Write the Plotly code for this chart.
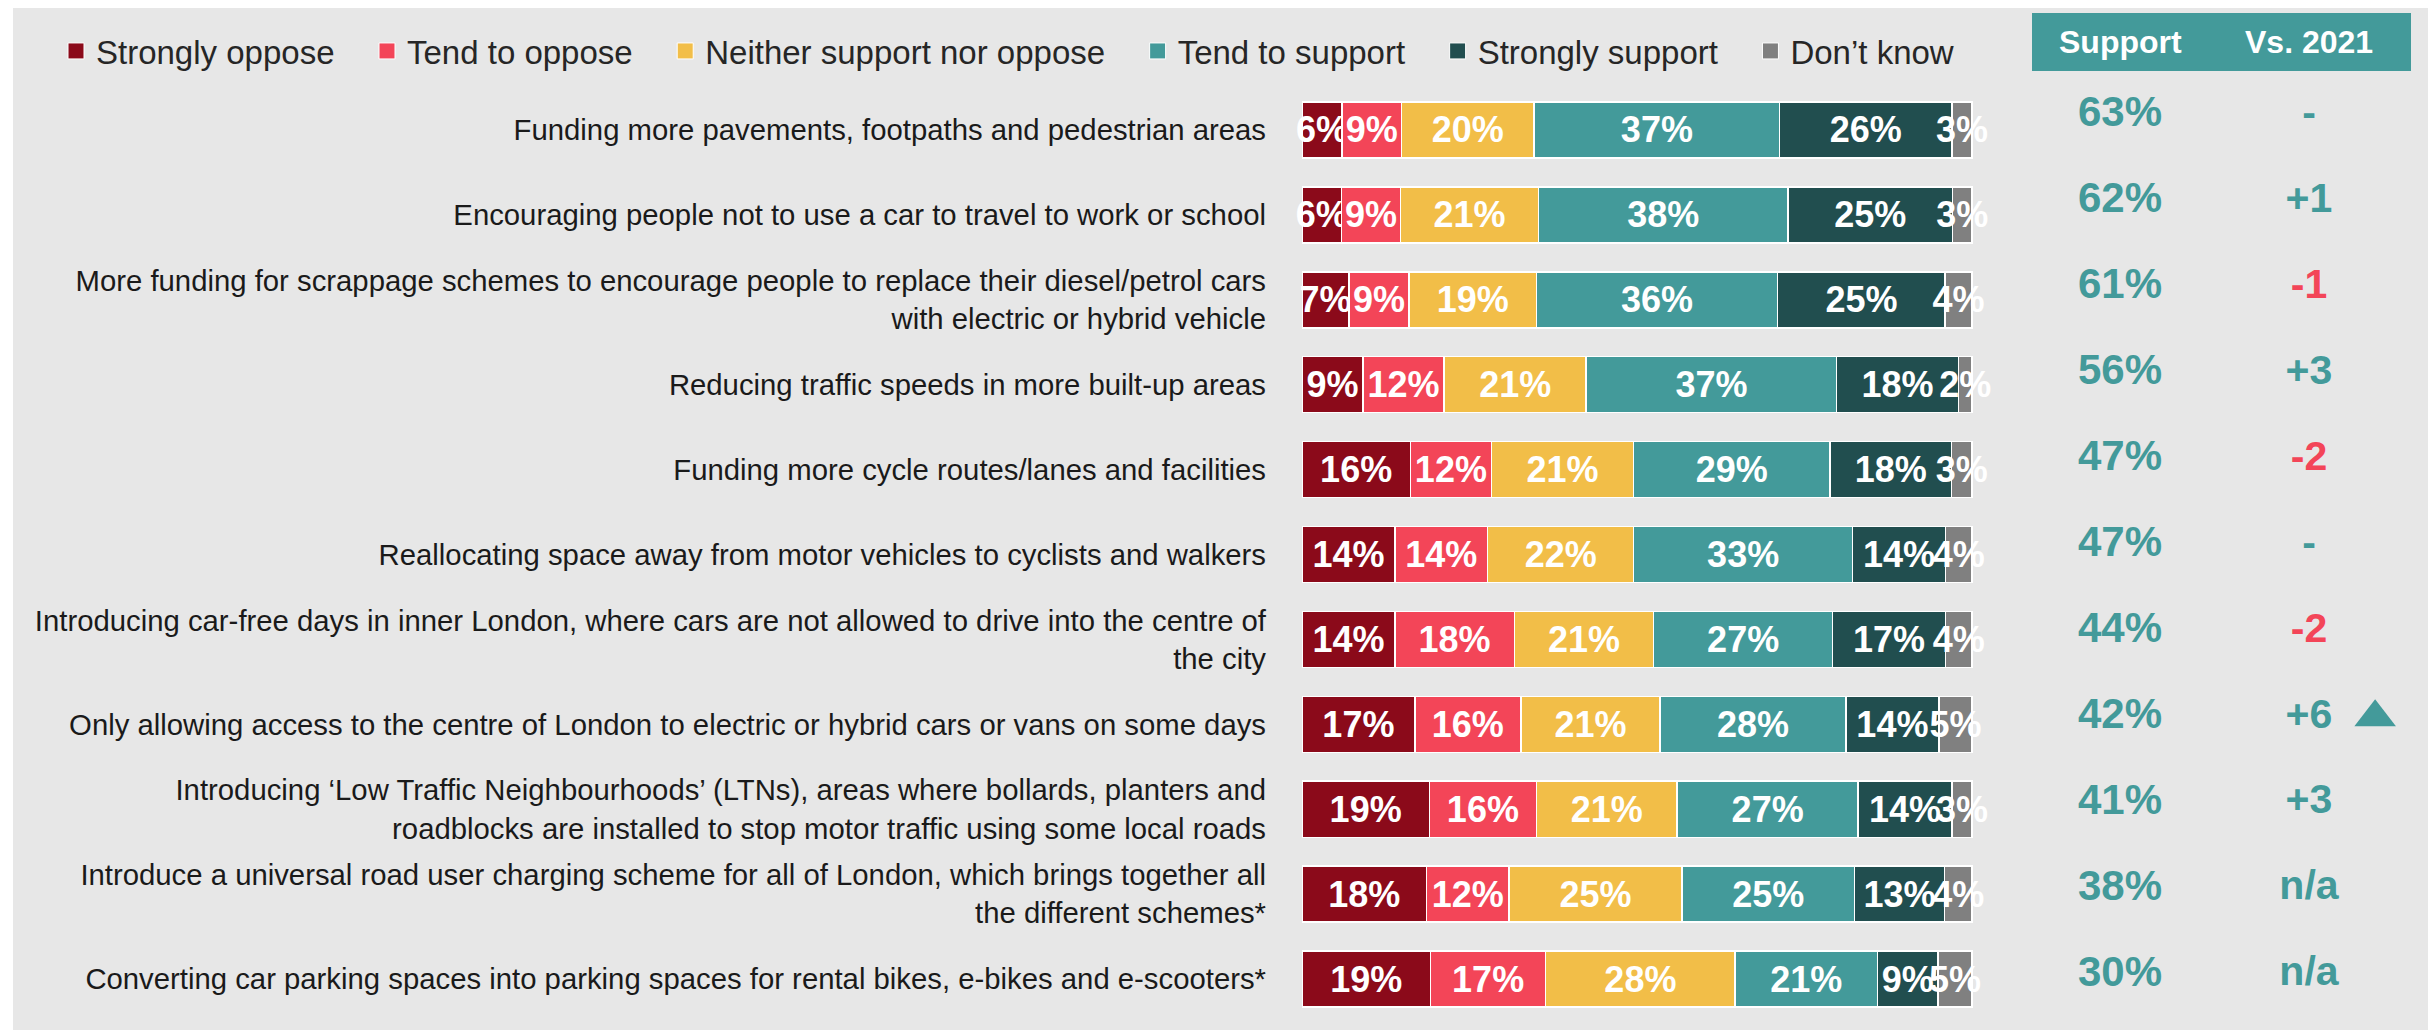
import plotly.graph_objects as go

# ---------------- data ----------------
statements = [
    "Funding more pavements, footpaths and pedestrian areas",
    "Encouraging people not to use a car to travel to work or school",
    "More funding for scrappage schemes to encourage people to replace their diesel/petrol cars<br>with electric or hybrid vehicle",
    "Reducing traffic speeds in more built-up areas",
    "Funding more cycle routes/lanes and facilities",
    "Reallocating space away from motor vehicles to cyclists and walkers",
    "Introducing car-free days in inner London, where cars are not allowed to drive into the centre of<br>the city",
    "Only allowing access to the centre of London to electric or hybrid cars or vans on some days",
    "Introducing ‘Low Traffic Neighbourhoods’ (LTNs), areas where bollards, planters and<br>roadblocks are installed to stop motor traffic using some local roads",
    "Introduce a universal road user charging scheme for all of London, which brings together all<br>the different schemes*",
    "Converting car parking spaces into parking spaces for rental bikes, e-bikes and e-scooters*",
]

strongly_oppose = [6, 6, 7, 9, 16, 14, 14, 17, 19, 18, 19]
tend_to_oppose = [9, 9, 9, 12, 12, 14, 18, 16, 16, 12, 17]
neither = [20, 21, 19, 21, 21, 22, 21, 21, 21, 25, 28]
tend_to_support = [37, 38, 36, 37, 29, 33, 27, 28, 27, 25, 21]
strongly_support = [26, 25, 25, 18, 18, 14, 17, 14, 14, 13, 9]
dont_know = [3, 3, 4, 2, 3, 4, 4, 5, 3, 4, 5]

support_total = [63, 62, 61, 56, 47, 47, 44, 42, 41, 38, 30]
vs_2021 = ["-", "+1", "-1", "+3", "-2", "-", "-2", "+6", "+3", "n/a", "n/a"]
trend_up = [False, False, False, False, False, False, False, True, False, False, False]

series_names = ["Strongly oppose", "Tend to oppose", "Neither support nor oppose",
                "Tend to support", "Strongly support", "Don’t know"]
series_values = [strongly_oppose, tend_to_oppose, neither,
                 tend_to_support, strongly_support, dont_know]
series_colors = ["#8B0A1A", "#F34558", "#F2BE48", "#439A9A", "#214E4F", "#808080"]

header_labels = ["Support", "Vs. 2021"]

# ---------------- styling ----------------
FONT = "Liberation Sans, Arial, sans-serif"
TEAL = "#439A9A"
RED = "#F34558"
W, H = 2436, 1030
OFF = 8  # page body margin


def px(x):
    return (x - OFF) / W


def py(y):
    return 1 - (y - OFF) / H


row_sums = [sum(vals) for vals in zip(*series_values)]

fig = go.Figure()

for name, vals, col in zip(series_names, series_values, series_colors):
    fig.add_trace(go.Bar(
        y=statements,
        x=[v / s * 100 for v, s in zip(vals, row_sums)],
        orientation="h",
        name=name,
        legendgroup=name,
        showlegend=False,
        marker=dict(color=col, line=dict(color="white", width=1.5)),
        text=[f"{v}%" for v in vals],
        textposition="inside",
        insidetextanchor="middle",
        textangle=0,
        constraintext="none",
        textfont=dict(family=FONT, size=36, color="white", weight="bold"),
        cliponaxis=False,
        hoverinfo="skip",
    ))
    # legend entry (square key)
    fig.add_trace(go.Scatter(
        x=[None], y=[None], mode="markers", name=name + "\u00a0\u00a0\u00a0",
        legendgroup=name, showlegend=True,
        marker=dict(symbol="square", size=18, color=col, line=dict(color="white", width=1)),
        hoverinfo="skip",
    ))

# table: support totals
fig.add_trace(go.Scatter(
    x=[0] * len(statements), y=statements, mode="text",
    text=[f"{v}%" for v in support_total],
    textposition="middle center",
    textfont=dict(family=FONT, size=42, color=TEAL, weight="bold"),
    xaxis="x2", yaxis="y2", showlegend=False, cliponaxis=False, hoverinfo="skip",
))
# table: change vs 2021
fig.add_trace(go.Scatter(
    x=[1] * len(statements), y=statements, mode="text",
    text=vs_2021,
    textposition="middle center",
    textfont=dict(family=FONT, size=41,
                  color=[RED if t.startswith("-") and len(t) > 1 else TEAL for t in vs_2021],
                  weight="bold"),
    xaxis="x2", yaxis="y2", showlegend=False, cliponaxis=False, hoverinfo="skip",
))
# trend marker
up_rows = [s for s, u in zip(statements, trend_up) if u]
fig.add_trace(go.Scatter(
    x=[1.35] * len(up_rows), y=up_rows, mode="markers",
    marker=dict(symbol="triangle-up", size=36, color=TEAL, line=dict(width=0)),
    xaxis="x2", yaxis="y2", showlegend=False, cliponaxis=False, hoverinfo="skip",
))

n = len(statements)
fig.update_layout(
    width=W, height=H,
    margin=dict(l=0, r=0, t=0, b=0),
    paper_bgcolor="white",
    plot_bgcolor="rgba(0,0,0,0)",
    barmode="stack",
    bargap=0.34,
    font=dict(family=FONT, color="#1A1A1A"),
    showlegend=True,
    legend=dict(orientation="h", x=px(56), xanchor="left", y=py(51), yanchor="middle",
                font=dict(family=FONT, size=33, color="#262626"),
                bgcolor="rgba(0,0,0,0)", traceorder="normal"),
    xaxis=dict(domain=[px(1302), px(1302 + 670 * 1.002)], range=[0, 100.2],
               visible=False, fixedrange=True),
    yaxis=dict(domain=[py(1021.5), py(87.5)], type="category",
               categoryorder="array", categoryarray=statements,
               range=[n - 0.5, -0.5], showgrid=False, zeroline=False, ticks="",
               showline=False, ticklabelstandoff=35,
               tickfont=dict(family=FONT, size=29.3, color="#1A1A1A")),
    xaxis2=dict(domain=[px(2010), px(2436)], range=[-0.582, 1.672], anchor="y2", visible=False),
    yaxis2=dict(domain=[py(1018), py(73)], anchor="x2", type="category",
                categoryorder="array", categoryarray=statements,
                range=[n - 0.5, -0.5], visible=False),
    shapes=[
        dict(type="rect", xref="paper", yref="paper", x0=px(13), x1=1, y0=0, y1=1,
             fillcolor="#E7E7E7", line=dict(width=0), layer="below"),
        dict(type="rect", xref="paper", yref="paper", x0=px(2032), x1=px(2411),
             y0=py(71), y1=py(13),
             fillcolor=TEAL, line=dict(width=0), layer="below"),
    ],
    annotations=[
        dict(text=lbl, x=i, xref="x2", y=py(42), yref="paper",
             xanchor="center", yanchor="middle", showarrow=False,
             font=dict(family=FONT, size=32, color="white", weight="bold"))
        for i, lbl in enumerate(header_labels)
    ],
)

fig.write_html("out.html")
